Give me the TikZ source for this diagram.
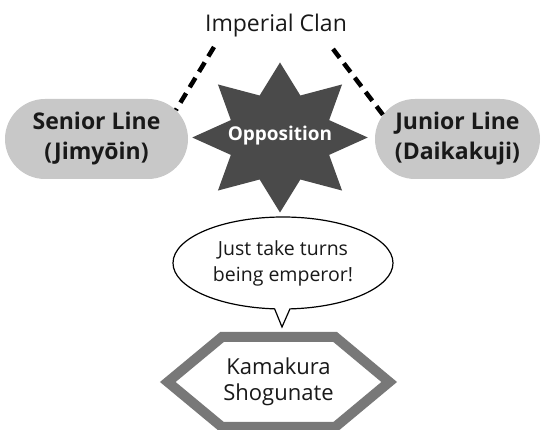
\documentclass[tikz,border=0pt]{standalone}
\usepackage{fontspec}
\setmainfont{Open Sans}
\usetikzlibrary{shapes.geometric,shapes.misc,shapes.callouts}

\definecolor{linegray}{RGB}{200,200,200}
\definecolor{stargray}{RGB}{74,74,74}
\definecolor{hexgray}{RGB}{120,120,120}

\tikzset{
  linebox/.style={rounded rectangle, fill=linegray, minimum height=80pt, inner sep=0pt,
    align=center, text=black!90, font=\fontsize{23}{30}\selectfont\bfseries},
  tie/.style={dash pattern=on 11pt off 7pt, line width=4.5pt},
  burst/.style={star, star points=8, star point ratio=1.65, minimum size=150pt,
    inner sep=0pt, outer sep=0pt, fill=stargray, transform shape},
  talk/.style={ellipse callout, draw, line width=1.2pt, fill=white, inner sep=0pt,
    minimum width=220pt, minimum height=92pt, callout pointer arc=8, align=center,
    text=black!90, font=\fontsize{19.5}{26}\selectfont},
  hexline/.style={draw=hexgray, line width=10pt, fill=white},
}

\begin{document}
\begin{tikzpicture}[x=1pt,y=-1pt]
  \useasboundingbox (0,0) rectangle (547,430);

  \node[text=black!90, font=\fontsize{23}{26}\selectfont] (clan) at (276,26) {Imperial Clan};
  \node[linebox, minimum width=183pt] (senior) at (96.5,139) {Senior Line\\(Jimyōin)};
  \node[linebox, minimum width=165pt] (junior) at (457.5,139) {Junior Line\\(Daikakuji)};

  \coordinate (lt) at (214,47);
  \coordinate (rt) at (333,49);
  \draw[tie] (lt) -- (senior.20);
  \draw[tie] (rt) -- (junior.162);

  \begin{scope}[shift={(280,137.5)},xscale=1.17]
    \node[burst] (star) {};
  \end{scope}
  \node[text=white, font=\fontsize{19}{22}\selectfont\bfseries] (opp) at (280,136) {Opposition};

  \node[talk, callout absolute pointer={(282,327)}] (bubble) at (283,263) {Just take turns\\being emperor!};

  \draw[hexline] (167.8,382) -- (222,337) -- (335.2,337) -- (389.2,382) -- (335.2,427) -- (222,427) -- cycle;
  \node[text=black!90, align=center, font=\fontsize{22}{26}\selectfont] (shogun) at (278.5,382) {Kamakura\\Shogunate};
\end{tikzpicture}
\end{document}
